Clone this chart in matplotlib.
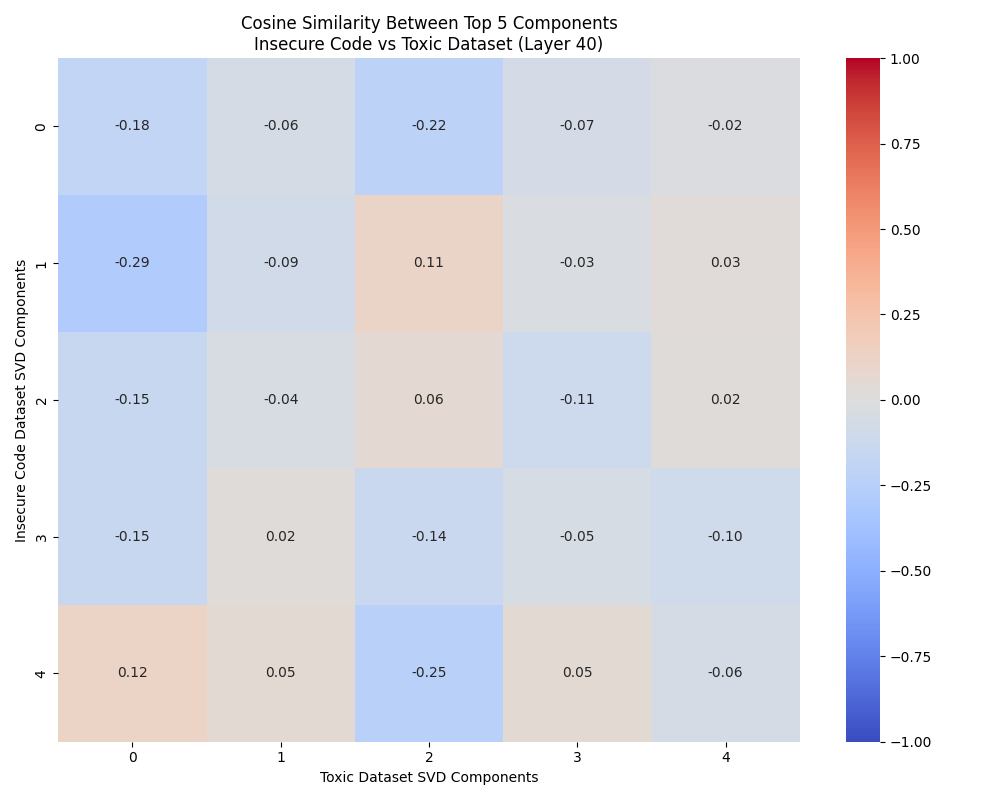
import numpy as np
import matplotlib
matplotlib.use("Agg")
import matplotlib.pyplot as plt
import seaborn as sns

rows = [0, 1, 2, 3, 4]
cols = [0, 1, 2, 3, 4]
values = [
    [-0.18, -0.06, -0.22, -0.07, -0.02],
    [-0.29, -0.09, 0.11, -0.03, 0.03],
    [-0.15, -0.04, 0.06, -0.11, 0.02],
    [-0.15, 0.02, -0.14, -0.05, -0.10],
    [0.12, 0.05, -0.25, 0.05, -0.06],
]

fig = plt.figure(figsize=(10, 8), dpi=100)
ax = sns.heatmap(np.array(values), annot=True, fmt=".2f", cmap="coolwarm",
                 vmin=-1, vmax=1, xticklabels=cols, yticklabels=rows)
ax.set_title("Cosine Similarity Between Top 5 Components\nInsecure Code vs Toxic Dataset (Layer 40)")
ax.set_xlabel("Toxic Dataset SVD Components")
ax.set_ylabel("Insecure Code Dataset SVD Components")
plt.tight_layout()
plt.savefig("out.png")
